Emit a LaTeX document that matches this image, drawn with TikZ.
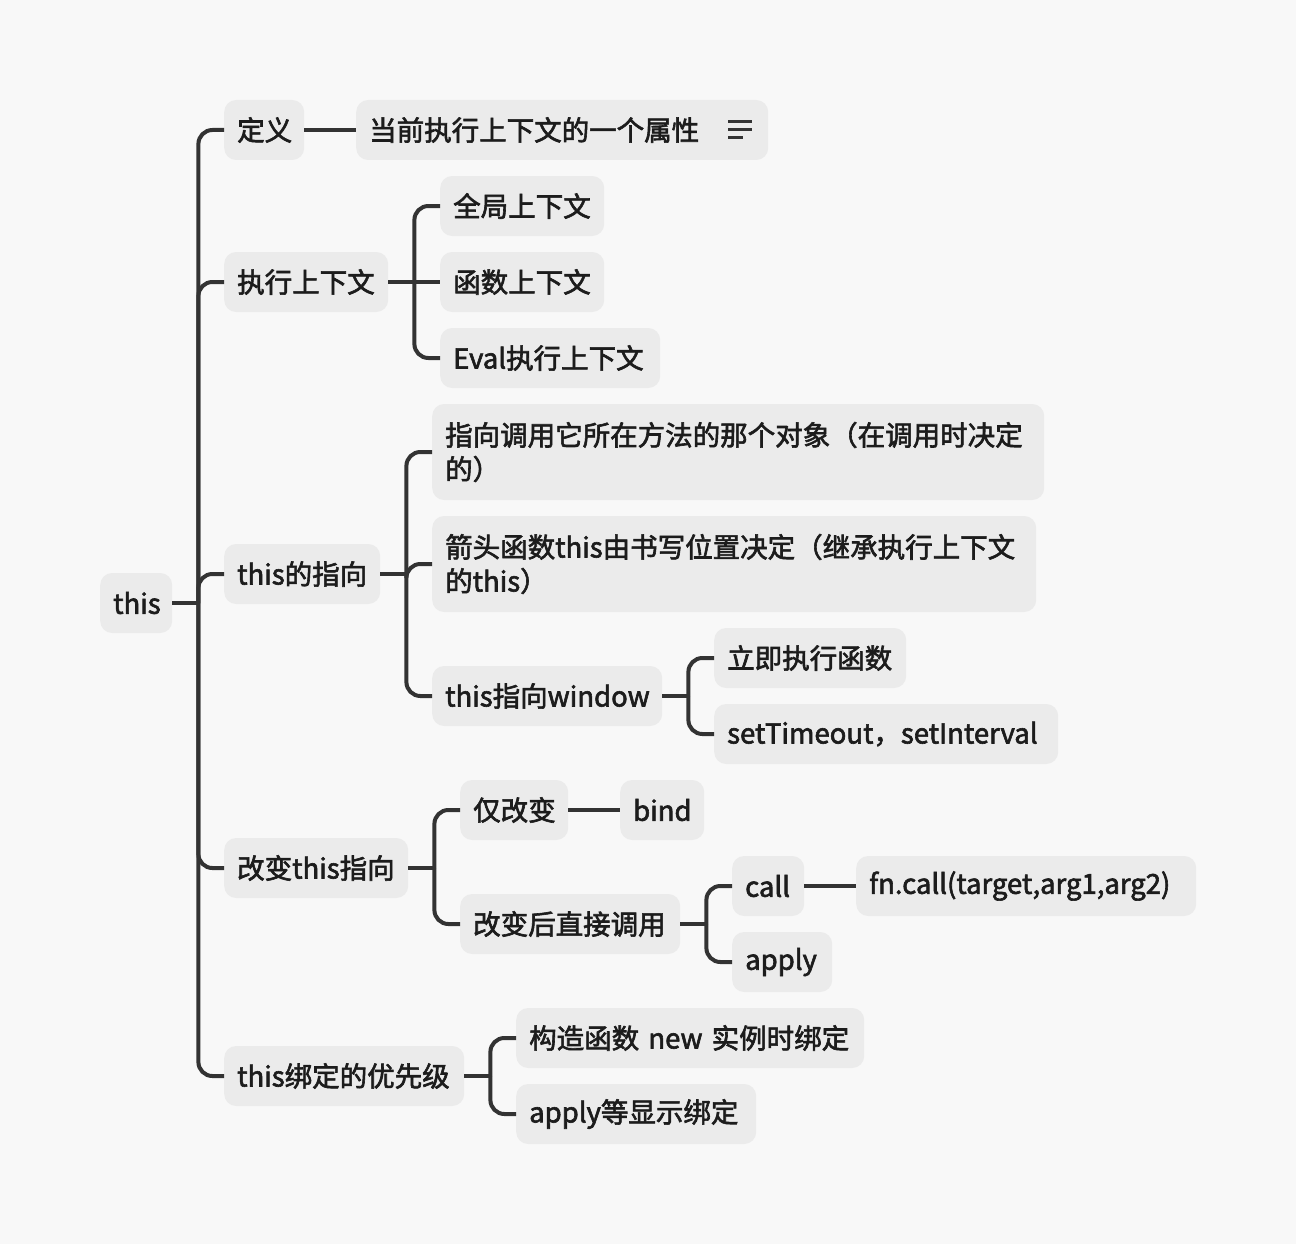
\documentclass[tikz,border=0pt]{standalone}
\usepackage{fontspec}
\setmainfont{Noto Sans CJK SC}[FakeBold=2.2]
\definecolor{bgc}{HTML}{F8F8F8}
\definecolor{boxc}{HTML}{EBEBEB}
\definecolor{linec}{HTML}{333333}
\definecolor{txt}{HTML}{1C1C1C}
\begin{document}
\begin{tikzpicture}[x=1pt,y=-1pt,
  box/.style={fill=boxc, rounded corners=12pt, inner xsep=13pt, inner ysep=0pt,
    minimum height=60pt, anchor=west, align=left, text width=#1, text=txt,
    font=\fontsize{27.5}{34}\selectfont},
  tall/.style={minimum height=96pt},
  conn/.style={draw=linec, line width=4pt, rounded corners=14pt}]
\fill[bgc] (0,0) rectangle (1296,1244);
\useasboundingbox (0,0) rectangle (1296,1244);

% root and first level
\node[box=46pt]  (root) at (100,603) {this};
\node[box=54pt]  (d1)   at (224,130) {定义};
\node[box=138pt] (d2)   at (224,282) {执行上下文};
\node[box=130pt] (d3)   at (224,574) {this的指向};
\node[box=158pt] (d4)   at (224,868) {改变this指向};
\node[box=214pt] (d5)   at (224,1076) {this绑定的优先级};

% definition
\node[box=386pt] (d1a) at (356,130) {当前执行上下文的一个属性};
\draw[linec, line width=2.6pt] (728,121.5) -- (752,121.5)
  (728,129.5) -- (752,129.5) (728,137.5) -- (743,137.5);

% execution contexts
\node[box=138pt] (d2a) at (440,206) {全局上下文};
\node[box=138pt] (d2b) at (440,282) {函数上下文};
\node[box=194pt] (d2c) at (440,358) {Eval执行上下文};

% where this points
\node[box=586pt, tall] (d3a) at (432,452) {指向调用它所在方法的那个对象（在调用时决定\\的）};
\node[box=578pt, tall] (d3b) at (432,564) {箭头函数this由书写位置决定（继承执行上下文\\的this）};
\node[box=204pt] (d3c)  at (432,696) {this指向window};
\node[box=166pt] (d3c1) at (714,658) {立即执行函数};
\node[box=318pt] (d3c2) at (714,734) {setTimeout，setInterval};

% changing this
\node[box=82pt]  (d4a)   at (460,810) {仅改变};
\node[box=58pt]  (d4a1)  at (620,810) {bind};
\node[box=194pt] (d4b)   at (460,924) {改变后直接调用};
\node[box=46pt]  (d4b1)  at (732,886) {call};
\node[box=314pt] (d4b1a) at (856,886) {fn.call(target,arg1,arg2)};
\node[box=74pt]  (d4b2)  at (732,962) {apply};

% binding priority
\node[box=322pt] (d5a) at (516,1038) {构造函数 new 实例时绑定};
\node[box=214pt] (d5b) at (516,1114) {apply等显示绑定};

% junction points between parents and their children
\coordinate (j0)  at ([xshift=26pt]root.east);
\coordinate (j2)  at ([xshift=26pt]d2.east);
\coordinate (j3)  at ([xshift=26pt]d3.east);
\coordinate (j3c) at ([xshift=26pt]d3c.east);
\coordinate (j4)  at ([xshift=26pt]d4.east);
\coordinate (j4b) at ([xshift=26pt]d4b.east);
\coordinate (j5)  at ([xshift=26pt]d5.east);

% connectors
\draw[conn] (root.east) -- (j0);
\foreach \c in {d1,d2,d3,d4,d5} \draw[conn] (j0) |- (\c.west);

\draw[conn] (d1.east) -- (d1a.west);

\draw[conn] (d2.east) -- (d2b.west);
\draw[conn] (j2) |- (d2a.west);
\draw[conn] (j2) |- (d2c.west);

\draw[conn] (d3.east) -- (j3);
\foreach \c in {d3a,d3b,d3c} \draw[conn] (j3) |- (\c.west);
\draw[conn] (d3c.east) -- (j3c);
\foreach \c in {d3c1,d3c2} \draw[conn] (j3c) |- (\c.west);

\draw[conn] (d4.east) -- (j4);
\foreach \c in {d4a,d4b} \draw[conn] (j4) |- (\c.west);
\draw[conn] (d4a.east) -- (d4a1.west);
\draw[conn] (d4b.east) -- (j4b);
\foreach \c in {d4b1,d4b2} \draw[conn] (j4b) |- (\c.west);
\draw[conn] (d4b1.east) -- (d4b1a.west);

\draw[conn] (d5.east) -- (j5);
\foreach \c in {d5a,d5b} \draw[conn] (j5) |- (\c.west);
\end{tikzpicture}
\end{document}
